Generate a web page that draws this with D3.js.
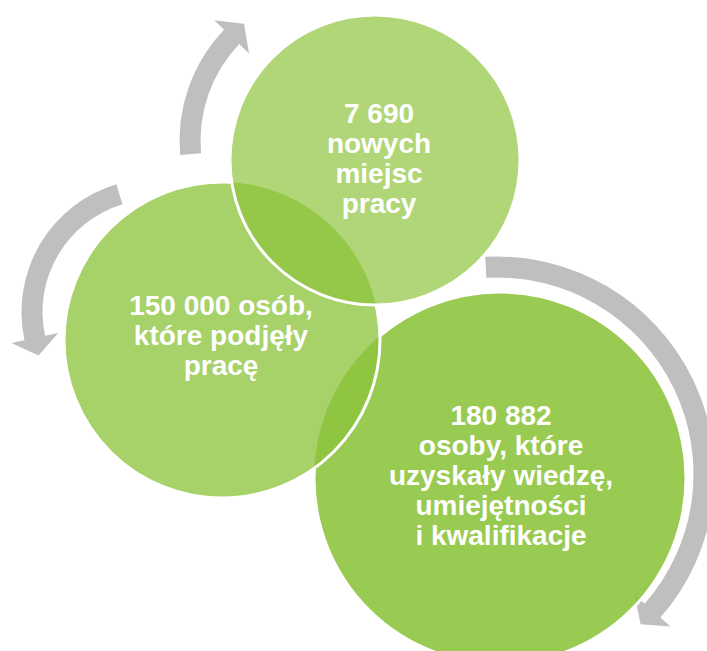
<!DOCTYPE html>
<html>
<head>
<meta charset="utf-8">
<script src="https://d3js.org/d3.v7.min.js"></script>
<style>
  body { margin: 0; background: #fff; }
  svg { display: block; }
  .lbl { font-family: "Liberation Sans", Arial, sans-serif; font-weight: bold; font-size: 28px; fill: #fff; }
</style>
</head>
<body>
<svg width="707" height="651"></svg>
<script>
// labels, one array per circle
const topLines   = ["7 690", "nowych", "miejsc", "pracy"];
const leftLines  = ["150 000 osób,", "które podjęły", "pracę"];
const rightLines = ["180 882", "osoby, które", "uzyskały wiedzę,", "umiejętności", "i kwalifikacje"];

const svg = d3.select("svg");
const green = "#8cc33c";

// circles, bottom one first
const circles = [
  {id: "r", cx: 500, cy: 478, r: 186, op: 0.89, lines: rightLines, tx: 501, ty: 425},
  {id: "l", cx: 222, cy: 340, r: 158, op: 0.77, lines: leftLines,  tx: 221, ty: 315},
  {id: "t", cx: 375, cy: 160, r: 145, op: 0.69, lines: topLines,   tx: 379, ty: 123}
];

// block arc arrows (angles in degrees, clockwise from 12 o'clock)
const arrows = [
  {cx: 341, cy: 141, r: 151, a0: -95,  a1: -46.4},
  {cx: 155, cy: 312, r: 123, a0: -16.8, a1: -102.2},
  {cx: 497, cy: 474, r: 207, a0: -3.1, a1: 131.3}
];
const bodyW = 21, headW = 48, headL = 18;

const rad = Math.PI / 180;
function pt(a, rr, ang) {
  return [a.cx + rr * Math.sin(ang), a.cy - rr * Math.cos(ang)];
}
function arrowPath(a) {
  const t0 = a.a0 * rad, t1 = a.a1 * rad;
  const dir = t1 > t0 ? 1 : -1;
  const p = d3.path();
  let s = pt(a, a.r + bodyW / 2, t0);
  p.moveTo(s[0], s[1]);
  p.arc(a.cx, a.cy, a.r + bodyW / 2, t0 - Math.PI / 2, t1 - Math.PI / 2, dir < 0);
  let b1 = pt(a, a.r + headW / 2, t1);
  p.lineTo(b1[0], b1[1]);
  let m = pt(a, a.r, t1);
  let tip = [m[0] + dir * headL * Math.cos(t1), m[1] + dir * headL * Math.sin(t1)];
  p.lineTo(tip[0], tip[1]);
  let b2 = pt(a, a.r - headW / 2, t1);
  p.lineTo(b2[0], b2[1]);
  let i1 = pt(a, a.r - bodyW / 2, t1);
  p.lineTo(i1[0], i1[1]);
  p.arc(a.cx, a.cy, a.r - bodyW / 2, t1 - Math.PI / 2, t0 - Math.PI / 2, dir > 0);
  p.closePath();
  return p.toString();
}

svg.selectAll("path.arrow")
  .data(arrows)
  .join("path")
  .attr("class", "arrow")
  .attr("d", arrowPath)
  .attr("fill", "#bfbfbf");

// masks so a circle's white outline is hidden under the circles above it
const defs = svg.append("defs");
circles.forEach((c, i) => {
  const m = defs.append("mask").attr("id", "m" + c.id);
  m.append("rect").attr("width", 707).attr("height", 651).attr("fill", "#fff");
  circles.slice(i + 1).forEach(o => {
    m.append("circle").attr("cx", o.cx).attr("cy", o.cy).attr("r", o.r).attr("fill", "#000");
  });
});

const g = svg.selectAll("g.circ")
  .data(circles)
  .join("g")
  .attr("class", "circ");

g.append("circle")
  .attr("cx", d => d.cx).attr("cy", d => d.cy).attr("r", d => d.r)
  .attr("fill", green).attr("fill-opacity", d => d.op);

g.append("circle")
  .attr("cx", d => d.cx).attr("cy", d => d.cy).attr("r", d => d.r)
  .attr("fill", "none").attr("stroke", "#fff").attr("stroke-width", 3)
  .attr("mask", d => "url(#m" + d.id + ")");

// text on top of everything
circles.forEach(c => {
  svg.append("text")
    .attr("class", "lbl")
    .attr("text-anchor", "middle")
    .selectAll("tspan")
    .data(c.lines)
    .join("tspan")
    .attr("x", c.tx)
    .attr("y", (d, i) => c.ty + i * 30)
    .text(d => d);
});
</script>
</body>
</html>
